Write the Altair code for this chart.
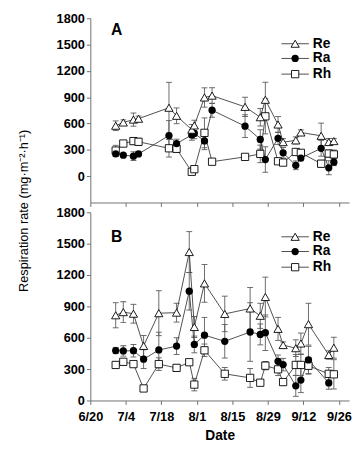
import altair as alt
import pandas as pd

series = ["Re", "Ra", "Rh"]
x_tick_days = [0, 14, 28, 42, 56, 70, 84, 98]
y_ticks = [0, 300, 600, 900, 1200, 1500, 1800]

# Panel A
a_dates = ["6/30", "7/3", "7/7", "7/9", "7/21", "7/24", "7/30", "7/31", "8/4", "8/7",
           "8/20", "8/26", "8/28", "9/2", "9/4", "9/9", "9/11", "9/19", "9/22", "9/24"]
a_re = [575, 612, 645, 655, 780, 688, 530, 578, 897, 918, 790, 672, 871, 589, 388, 408, 498, 460, 389, 400]
a_re_err = [55, 30, 75, 30, 290, 90, 60, 60, 110, 90, 110, 100, 200, 90, 40, 40, 30, 145, 40, 30]
a_ra = [255, 240, 228, 254, 463, 372, 470, 487, 402, 752, 570, 419, 190, 432, 266, 124, 206, 318, 96, 160]
a_ra_err = [30, 20, 50, 20, 170, 50, 60, 60, 100, 80, 130, 110, 145, 70, 60, 50, 30, 90, 80, 40]
a_rh = [292, 372, 400, 392, 318, 312, 50, 80, 494, 165, 220, 254, 682, 170, 155, 276, 266, 142, 258, 248]
a_rh_err = [60, 30, 40, 40, 100, 40, 20, 20, 170, 20, 20, 100, 200, 30, 20, 30, 30, 40, 40, 50]

# Panel B
b_dates = ["6/30", "7/3", "7/7", "7/11", "7/17", "7/24", "7/29", "7/31", "8/4", "8/12",
           "8/22", "8/26", "8/28", "9/2", "9/4", "9/9", "9/11", "9/14", "9/22", "9/24"]
b_re = [815, 845, 830, 522, 835, 840, 1420, 703, 1120, 828, 880, 810, 990, 685, 530, 500, 545, 730, 435, 505]
b_re_err = [120, 100, 90, 100, 215, 90, 195, 100, 180, 170, 200, 120, 190, 110, 30, 80, 100, 200, 40, 100]
b_ra = [478, 474, 476, 395, 483, 520, 1045, 536, 625, 566, 655, 632, 648, 375, 343, 140, 195, 388, 168, None]
b_ra_err = [30, 50, 60, 90, 170, 80, 180, 80, 170, 160, 280, 100, 170, 60, 60, 100, 120, 130, 60, None]
b_rh = [340, 370, 348, 115, 348, 312, 366, 152, 480, 255, 216, 170, 333, 298, 176, 340, 340, 332, 255, 250]
b_rh_err = [30, 30, 20, 20, 60, 30, 20, 60, 60, 60, 90, 20, 40, 60, 30, 100, 100, 80, 60, 140]

START = pd.Timestamp(2009, 6, 20)


def to_day(d):
    m, dd = d.split("/")
    return (pd.Timestamp(2009, int(m), int(dd)) - START).days


def build(dates, vals):
    rows = []
    for s in series:
        v, e = vals[s]
        for d, vv, ee in zip(dates, v, e):
            if vv is None:
                continue
            rows.append(dict(day=to_day(d), val=vv, lo=vv - ee, hi=vv + ee, series=s))
    return pd.DataFrame(rows)


df_a = build(a_dates, {"Re": (a_re, a_re_err), "Ra": (a_ra, a_ra_err), "Rh": (a_rh, a_rh_err)})
df_b = build(b_dates, {"Re": (b_re, b_re_err), "Ra": (b_ra, b_ra_err), "Rh": (b_rh, b_rh_err)})

AX = "#707070"
EB = "#5a5a5a"
LC = "#3a3a3a"
FONT = "Liberation Sans"
W = 264


def panel(df, ydom, h, letter, leg_y, letter_y, bottom):
    xaxis_kw = dict(values=x_tick_days, labels=bottom, labelFlush=False, labelPadding=6,
                    labelExpr="timeFormat(datetime(2009, 5, 20 + datum.value), '%-m/%-d')")
    if bottom:
        xaxis = alt.Axis(title="Date", titlePadding=6, **xaxis_kw)
    else:
        xaxis = alt.Axis(title=None, **xaxis_kw)
    if bottom:
        yaxis = alt.Axis(values=y_ticks, format="d", title=None)
    else:
        yaxis = alt.Axis(values=y_ticks, format="d", title="Respiration rate (mg·m⁻²·h⁻¹)",
                         titleFontWeight="normal", titleFontSize=13,
                         titleX=-64, titleY=196, titleBaseline="alphabetic")
    x = alt.X("day:Q", scale=alt.Scale(domain=[0, 102], nice=False, zero=False), axis=xaxis)
    ys = alt.Scale(domain=ydom, nice=False, zero=False)

    def Y(f):
        return alt.Y(f, scale=ys, axis=yaxis)

    base = alt.Chart(df)
    err = base.mark_rule(color=EB, strokeWidth=0.9).encode(x=x, y=Y("lo:Q"), y2="hi:Q")
    caps = base.transform_fold(["lo", "hi"], as_=["end", "yv"]).mark_tick(
        orient="horizontal", size=6, thickness=0.9, color=EB, opacity=1
    ).encode(x=x, y=Y("yv:Q"))
    lines = base.mark_line(color=LC, strokeWidth=0.9).encode(x=x, y=Y("val:Q"), detail="series:N")
    rh = base.transform_filter("datum.series == 'Rh'").mark_point(
        shape="square", size=55, fill="white", fillOpacity=1, stroke="black", strokeWidth=0.9, opacity=1
    ).encode(x=x, y=Y("val:Q"))
    ra = base.transform_filter("datum.series == 'Ra'").mark_circle(
        size=55, color="black", opacity=1
    ).encode(x=x, y=Y("val:Q"))
    re = base.transform_filter("datum.series == 'Re'").mark_point(
        shape="triangle-up", size=70, fill="white", fillOpacity=1, stroke="black", strokeWidth=0.9, opacity=1
    ).encode(x=x, y=Y("val:Q"))

    layers = [err, caps, lines, rh, ra, re]

    # legend
    for i, s in enumerate(series):
        yy = leg_y[i]
        ldf = pd.DataFrame({"series": [s]})
        layers.append(alt.Chart(ldf).mark_rule(color=LC, strokeWidth=0.9).encode(
            x=alt.value(195), x2=alt.value(223), y=alt.value(yy)))
        if s == "Re":
            mk = alt.Chart(ldf).mark_point(shape="triangle-up", size=70, fill="white", fillOpacity=1,
                                          stroke="black", strokeWidth=0.9, opacity=1)
        elif s == "Ra":
            mk = alt.Chart(ldf).mark_circle(size=55, color="black", opacity=1)
        else:
            mk = alt.Chart(ldf).mark_point(shape="square", size=55, fill="white", fillOpacity=1,
                                          stroke="black", strokeWidth=0.9, opacity=1)
        layers.append(mk.encode(x=alt.value(209), y=alt.value(yy)))
        layers.append(alt.Chart(ldf).mark_text(
            align="left", baseline="middle", font=FONT, fontSize=14, fontWeight="bold", color="black"
        ).encode(x=alt.value(227), y=alt.value(yy), text="series:N"))

    layers.append(alt.Chart(pd.DataFrame({"t": [letter]})).mark_text(
        align="left", baseline="middle", font=FONT, fontSize=16, fontWeight="bold", color="black"
    ).encode(x=alt.value(21), y=alt.value(letter_y), text="t:N"))

    return alt.layer(*layers).properties(width=W, height=h)


top = panel(df_a, [-300, 1800], 188, "A", [26, 41, 57], 12, False)
bot = panel(df_b, [0, 1800], 192, "B", [25, 40, 56], 25, True)

chart = alt.vconcat(top, bot, spacing=10, bounds="flush").properties(
    padding={"left": 10, "top": 0, "right": 0, "bottom": 0}
).configure_view(strokeWidth=0).configure_axis(
    domainColor=AX, tickColor=AX, labelColor="black", labelFont=FONT, labelFontSize=13,
    labelFontWeight="bold", titleFont=FONT, titleFontWeight="bold", titleFontSize=14,
    titleColor="black", grid=False, tickSize=4, labelPadding=2, domainWidth=1, tickWidth=1
)

chart.save("out.html", embed_options={"renderer": "svg", "actions": False})
